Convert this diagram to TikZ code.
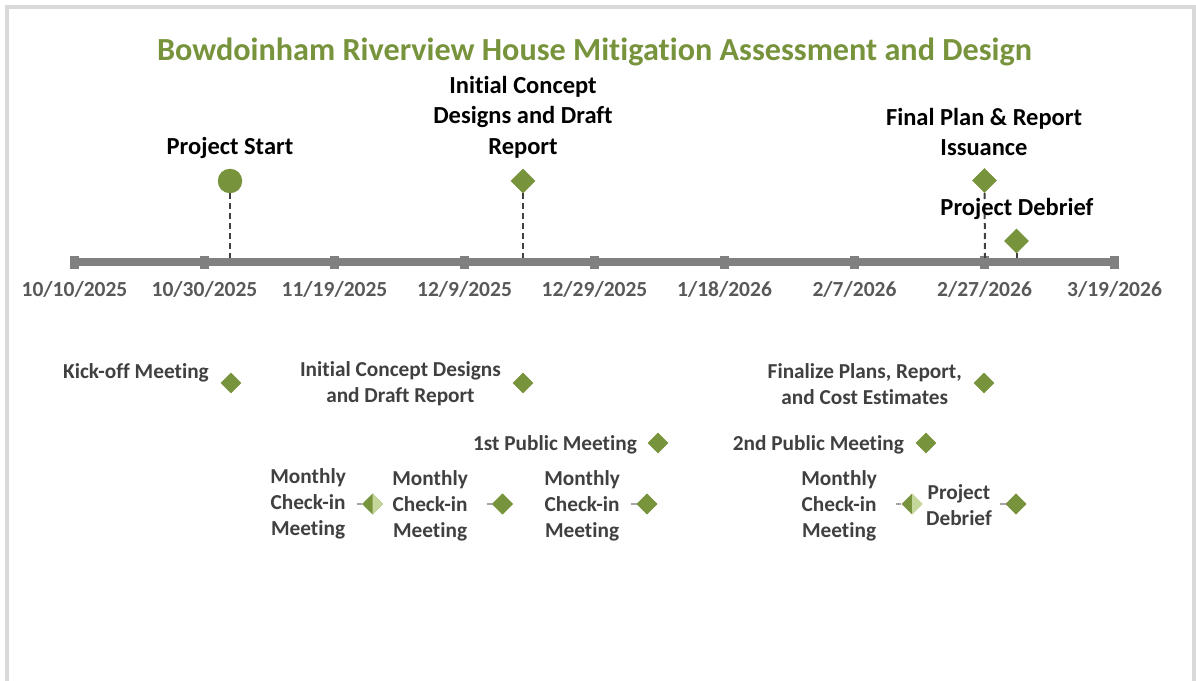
\documentclass[tikz,border=0pt]{standalone}
\usepackage{fontspec}
\setmainfont{Carlito}[Ligatures=NoCommon]
\usetikzlibrary{shapes.geometric}
\definecolor{olive}{HTML}{77933C}
\definecolor{lightolive}{HTML}{C4D79B}
\definecolor{axisgray}{HTML}{808080}
\definecolor{dropgray}{HTML}{404040}
\definecolor{tasktext}{HTML}{404040}
\definecolor{datetext}{HTML}{595959}
\definecolor{framegray}{HTML}{D9D9D9}
\definecolor{leadergray}{HTML}{A6A6A6}
\tikzset{
  titleText/.style={font=\fontsize{32.2}{38}\selectfont\bfseries, text=olive, inner sep=0pt},
  msLabel/.style={font=\fontsize{24.5}{30.5}\selectfont\bfseries, text=black, align=center, inner sep=0pt},
  taskLabel/.style={font=\fontsize{21.3}{26}\selectfont\bfseries, text=tasktext, align=center, inner sep=0pt},
  dateLabel/.style={font=\fontsize{21.5}{26}\selectfont\bfseries, text=datetext, inner sep=0pt},
  tickMark/.style={rectangle, fill=axisgray, minimum width=9pt, minimum height=13pt, inner sep=0pt},
  gem/.style={diamond, fill=olive, minimum width=21pt, minimum height=21pt, inner sep=0pt},
  bigGem/.style={diamond, fill=olive, minimum width=25pt, minimum height=25pt, inner sep=0pt},
  dot/.style={circle, fill=olive, minimum size=24.5pt, inner sep=0pt},
  dropLine/.style={draw=dropgray, line width=2pt, dash pattern=on 6pt off 4pt},
  leader/.style={draw=leadergray, line width=1.5pt},
  halfLight/.style={fill=lightolive},
}
\begin{document}
\begin{tikzpicture}[x=1pt,y=-1pt]
  \useasboundingbox (0,0) rectangle (1196,680);
  % outer frame
  \draw[framegray, line width=4pt] (7,700) -- (7,7) -- (1194,7) -- (1194,700);

  % title
  \node[titleText, anchor=base] (title) at (594.5,60)
    {Bowdoinham Riverview House Mitigation Assessment and Design};

  % time axis with tick marks every 20 days
  \foreach \i in {0,...,8} {
    \coordinate (c\i) at ({74.5+130*\i},262);
  }
  \draw[axisgray, line width=8pt] (c0) -- (c8);
  \foreach \i/\d in {0/10\slash 10\slash 2025, 1/10\slash 30\slash 2025, 2/11\slash 19\slash 2025,
                     3/12\slash 9\slash 2025, 4/12\slash 29\slash 2025, 5/1\slash 18\slash 2026,
                     6/2\slash 7\slash 2026, 7/2\slash 27\slash 2026, 8/3\slash 19\slash 2026} {
    \node[tickMark] (t\i) at (c\i) {};
    \node[dateLabel, anchor=base] (d\i) at ({74.5+130*\i},296) {\d};
  }

  % axis points for the milestones
  \coordinate (aStart) at (230,258);
  \coordinate (aDraft) at (523,258);
  \coordinate (aFinal) at (985,258);
  \coordinate (aDebrief) at (1016.5,258);

  % milestones above the axis
  \node[dot] (mStart) at (230,181) {};
  \draw[dropLine] (mStart.south) -- (aStart);
  \node[msLabel, anchor=base] (lStart) at (230,154) {Project Start};

  \draw[dropLine] (523,193) -- (aDraft);
  \node[bigGem] (mDraft) at (523,181) {};
  \node[msLabel] (lDraft) at (523,117) {Initial Concept\\Designs and Draft\\Report};

  \draw[dropLine] (984.5,193) -- (aFinal);
  \node[bigGem] (mFinal) at (984.5,180.5) {};
  \node[msLabel] (lFinal) at (984,132) {Final Plan \& Report\\Issuance};

  \draw[dropLine] (1016.5,253) -- (aDebrief);
  \node[bigGem] (mDebrief) at (1016.5,241) {};
  \node[msLabel, anchor=base] (lDebrief) at (1017,215) {Project Debrief};

  % tasks below the axis
  \node[gem] (tKick) at (231,383) {};
  \node[taskLabel, anchor=base east] (lKick) at (209,378) {Kick-off Meeting};

  \node[gem] (tDraft) at (523,383) {};
  \node[taskLabel, anchor=east] (lDraft2) at (501,384) {Initial Concept Designs\\and Draft Report};

  \node[gem] (tFinal) at (984,383) {};
  \node[taskLabel, anchor=east] (lFinal2) at (962,384) {Finalize Plans, Report,\\and Cost Estimates};

  \node[gem] (tPub1) at (658,443) {};
  \node[taskLabel, anchor=base east] (lPub1) at (637,450) {1st Public Meeting};

  \node[gem] (tPub2) at (926,443) {};
  \node[taskLabel, anchor=base east] (lPub2) at (904,450) {2nd Public Meeting};

  % monthly check-ins
  \node[gem] (tMon1) at (372.5,504) {};
  \fill[halfLight] (tMon1.north) -- (tMon1.east) -- (tMon1.south) -- cycle;
  \draw[leader] ([xshift=-5pt]tMon1.west) -- (tMon1.west);
  \node[taskLabel, anchor=east] (lMon1) at (346,504) {Monthly\\Check-in\\Meeting};

  \node[gem] (tMon2) at (502.5,504) {};
  \draw[leader] ([xshift=-5pt]tMon2.west) -- (tMon2.center);
  \node[gem] at (tMon2) {};
  \node[taskLabel, anchor=east] (lMon2) at (468,506) {Monthly\\Check-in\\Meeting};

  \node[gem] (tMon3) at (647,504) {};
  \draw[leader] ([xshift=-5pt]tMon3.west) -- (tMon3.center);
  \node[gem] at (tMon3) {};
  \node[taskLabel, anchor=east] (lMon3) at (620,506) {Monthly\\Check-in\\Meeting};

  \node[gem] (tMon4) at (912,504) {};
  \fill[halfLight] (tMon4.north) -- (tMon4.east) -- (tMon4.south) -- cycle;
  \draw[leader] ([xshift=-5pt]tMon4.west) -- (tMon4.west);
  \node[taskLabel, anchor=east] (lMon4) at (877,506) {Monthly\\Check-in\\Meeting};

  \node[gem] (tDebrief) at (1016,504) {};
  \draw[leader] ([xshift=-5pt]tDebrief.west) -- (tDebrief.center);
  \node[gem] at (tDebrief) {};
  \node[taskLabel, anchor=east] (lDebrief2) at (992,505) {Project\\Debrief};
\end{tikzpicture}
\end{document}
